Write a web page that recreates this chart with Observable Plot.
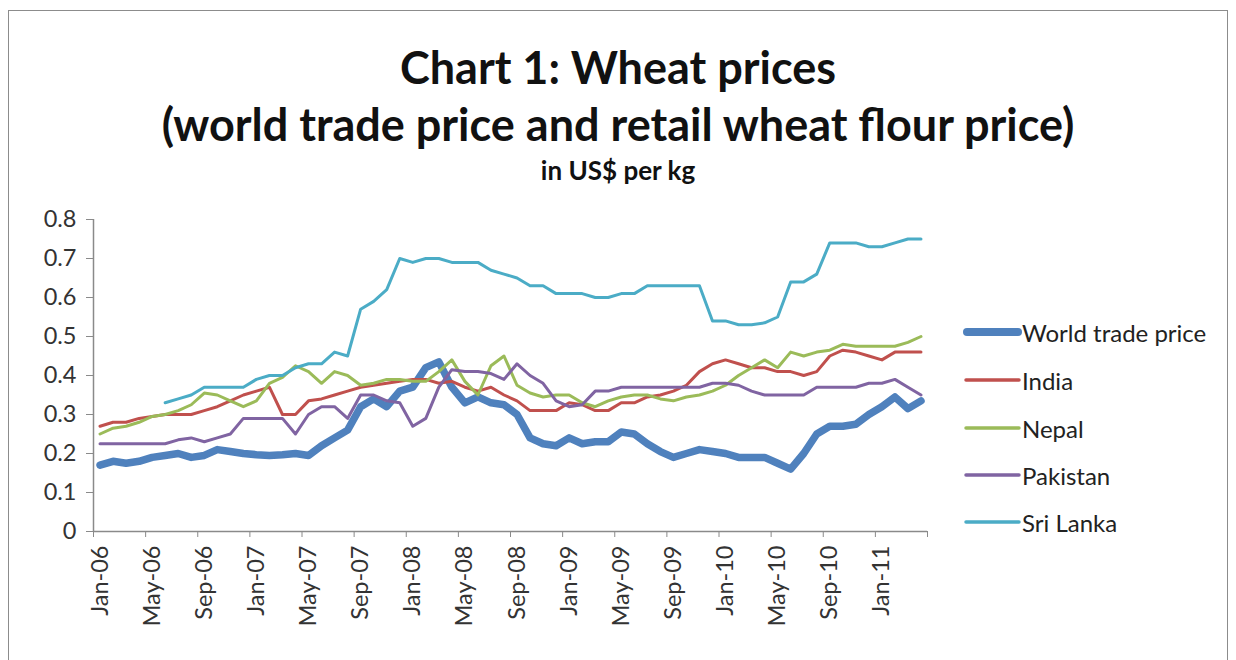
<!DOCTYPE html>
<html><head><meta charset="utf-8">
<script src="https://cdn.jsdelivr.net/npm/d3@7"></script>
<script src="https://cdn.jsdelivr.net/npm/@observablehq/plot@0.6"></script>
<style>
body{margin:0;background:#fff;width:1236px;height:660px;overflow:hidden;font-family:Lato,"Open Sans",sans-serif;position:relative}
#frame{position:absolute;left:8px;top:10px;width:1220px;height:720px;border:1px solid #8c8c8c;box-sizing:border-box}
.t{position:absolute;left:0;width:1236px;text-align:center;font-weight:bold;color:#111;white-space:nowrap}
#chart{position:absolute;left:0;top:0}
#legend{position:absolute;left:0;top:0}
.li{position:absolute;left:963px;height:30px;display:flex;align-items:center;font-size:24px;color:#222;white-space:nowrap}
</style></head>
<body>
<div id="frame"></div>
<div id="chart"></div>
<div class="t" style="top:38px;font-size:45px;line-height:58px">Chart 1: Wheat prices</div>
<div class="t" style="top:95px;font-size:45px;line-height:58px">(world trade price and retail wheat flour price)</div>
<div class="t" style="top:155px;font-size:26px;line-height:30px">in US$ per kg</div>
<div id="legend"></div>
<script>
// Categories: monthly, Jan-06 .. Apr-11
const months = d3.utcMonth.range(new Date(Date.UTC(2006,0,1)), new Date(Date.UTC(2011,4,1))).map(d3.utcFormat("%b-%y"));
const tickLabels = ["Jan-06","May-06","Sep-06","Jan-07","May-07","Sep-07","Jan-08","May-08","Sep-08","Jan-09","May-09","Sep-09","Jan-10","May-10","Sep-10","Jan-11"];
const yTicks = [0,0.1,0.2,0.3,0.4,0.5,0.6,0.7,0.8];

const seriesNames = ["World trade price","India","Nepal","Pakistan","Sri Lanka"];
const seriesColors = ["#4F81BD","#C0504D","#9BBB59","#8064A2","#4BACC6"];

const worldTrade = [0.17,0.18,0.175,0.18,0.19,0.195,0.20,0.19,0.195,0.21,0.205,0.20,0.197,0.195,0.197,0.20,0.195,0.22,0.24,0.26,
  0.32,0.34,0.32,0.36,0.37,0.42,0.435,0.37,0.33,0.345,0.33,0.325,0.30,0.24,0.225,0.22,0.24,0.225,0.23,0.23,0.255,0.25,0.225,
  0.205,0.19,0.20,0.21,0.205,0.20,0.19,0.19,0.19,0.175,0.16,0.20,0.25,0.27,0.27,0.275,0.30,0.32,0.345,0.315,0.335];
const india = [0.27,0.28,0.28,0.29,0.295,0.30,0.30,0.30,0.31,0.32,0.335,0.35,0.36,0.37,0.30,0.30,0.335,0.34,0.35,0.36,
  0.37,0.375,0.38,0.385,0.39,0.39,0.38,0.385,0.37,0.36,0.37,0.35,0.335,0.31,0.31,0.31,0.33,0.325,0.31,0.31,0.33,0.33,0.345,
  0.35,0.36,0.375,0.41,0.43,0.44,0.43,0.42,0.42,0.41,0.41,0.40,0.41,0.45,0.465,0.46,0.45,0.44,0.46,0.46,0.46];
const nepal = [0.25,0.265,0.27,0.28,0.295,0.30,0.31,0.325,0.355,0.35,0.335,0.32,0.335,0.38,0.395,0.425,0.41,0.38,0.41,0.40,
  0.375,0.38,0.39,0.39,0.385,0.385,0.41,0.44,0.385,0.35,0.425,0.45,0.375,0.355,0.345,0.35,0.35,0.33,0.32,0.335,0.345,0.35,0.35,
  0.34,0.335,0.345,0.35,0.36,0.375,0.40,0.42,0.44,0.42,0.46,0.45,0.46,0.465,0.48,0.475,0.475,0.475,0.475,0.485,0.50];
const pakistan = [0.225,0.225,0.225,0.225,0.225,0.225,0.235,0.24,0.23,0.24,0.25,0.29,0.29,0.29,0.29,0.25,0.30,0.32,0.32,0.29,
  0.35,0.35,0.335,0.33,0.27,0.29,0.37,0.415,0.41,0.41,0.405,0.39,0.43,0.40,0.38,0.335,0.32,0.325,0.36,0.36,0.37,0.37,0.37,
  0.37,0.37,0.37,0.37,0.38,0.38,0.375,0.36,0.35,0.35,0.35,0.35,0.37,0.37,0.37,0.37,0.38,0.38,0.39,0.37,0.35];
const sriLanka = [null,null,null,null,null,0.33,0.34,0.35,0.37,0.37,0.37,0.37,0.39,0.40,0.40,0.42,0.43,0.43,0.46,0.45,
  0.57,0.59,0.62,0.70,0.69,0.70,0.70,0.69,0.69,0.69,0.67,0.66,0.65,0.63,0.63,0.61,0.61,0.61,0.60,0.60,0.61,0.61,0.63,
  0.63,0.63,0.63,0.63,0.54,0.54,0.53,0.53,0.535,0.55,0.64,0.64,0.66,0.74,0.74,0.74,0.73,0.73,0.74,0.75,0.75];

const seriesValues = [worldTrade, india, nepal, pakistan, sriLanka];
const rows = seriesNames.flatMap((s, k) => seriesValues[k].map((v, i) => ({series: s, month: i, label: months[i], value: v})));

const tickIdx = tickLabels.map(l => months.indexOf(l));
const boundaries = d3.range(0, months.length + 1, 4).map(i => i - 0.5).concat([months.length - 0.5]);

const axisColor = "#8a8a8a";
const chart = Plot.plot({
  width: 1236, height: 660,
  marginLeft: 93, marginRight: 309, marginTop: 219, marginBottom: 129,
  style: {background: "transparent", fontFamily: "Lato, 'Open Sans', sans-serif", color: "#333"},
  x: {type: "linear", domain: [-0.5, months.length - 0.5], label: null},
  y: {domain: [0, 0.8], label: null},
  marks: [
    Plot.ruleY([0], {stroke: axisColor, strokeWidth: 1.5}),
    Plot.ruleX([-0.5], {stroke: axisColor, strokeWidth: 1.5}),
    Plot.axisY({ticks: yTicks, tickFormat: d => d === 0 ? "0" : d.toFixed(1), tickSize: 7, tickPadding: 10, fontSize: 23.5, stroke: axisColor, fill: "#333", label: null}),
    Plot.axisX({ticks: boundaries, tickFormat: () => "", tickSize: 6, stroke: axisColor, label: null}),
    Plot.axisX({ticks: tickIdx, tickFormat: i => months[i], tickSize: 0, tickPadding: 14, tickRotate: -90, fontSize: 23.5, fill: "#333", label: null}),
    Plot.line(rows.filter(d => d.series === "World trade price"), {x: "month", y: "value", stroke: seriesColors[0], strokeWidth: 7.5, strokeLinejoin: "round", strokeLinecap: "round"}),
    ...seriesNames.slice(1).map((s, k) => Plot.line(rows.filter(d => d.series === s), {x: "month", y: "value", stroke: seriesColors[k + 1], strokeWidth: 3, strokeLinejoin: "round"}))
  ]
});
document.getElementById("chart").appendChild(chart);

const legendY = [332, 380, 428, 475, 522];
const lg = document.getElementById("legend");
seriesNames.forEach((s, k) => {
  const d = document.createElement("div");
  d.className = "li";
  d.style.top = (legendY[k] - 15) + "px";
  const w = k === 0 ? 8 : 3.5;
  d.innerHTML = `<svg width="59" height="30" style="display:block"><line x1="${k===0?4:3}" x2="${k===0?55:56}" y1="15" y2="15" stroke="${seriesColors[k]}" stroke-width="${w}" stroke-linecap="round"/></svg><span>${s}</span>`;
  lg.appendChild(d);
});
</script>
</body></html>
